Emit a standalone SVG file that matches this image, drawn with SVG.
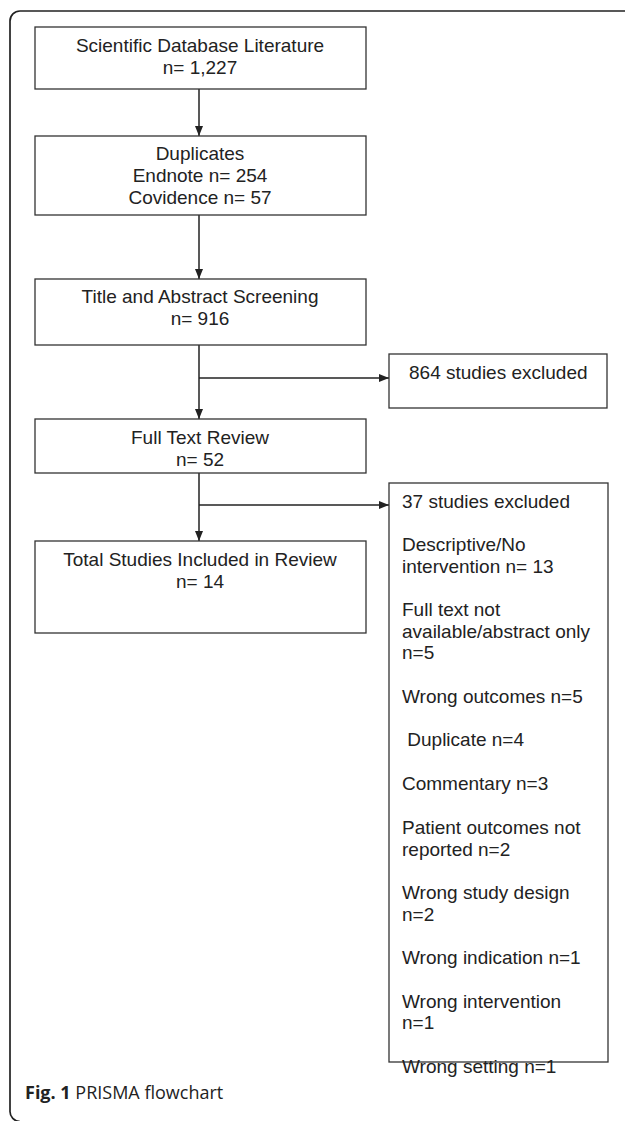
<svg xmlns="http://www.w3.org/2000/svg" width="625" height="1121" viewBox="0 0 625 1121">
<style>
.box{fill:#fff;stroke:#333;stroke-width:1.3}
.t{font-family:"Liberation Sans",Arial,sans-serif;font-size:19px;fill:#222}
.c{text-anchor:middle}
.ln{stroke:#222;stroke-width:1.5;fill:none}
.cap{font-family:"Open Sans","Noto Sans",sans-serif;font-size:18px;fill:#222}
</style>
<defs>
<marker id="ah" viewBox="0 0 10 10" refX="10" refY="5" markerWidth="10" markerHeight="10" markerUnits="userSpaceOnUse" orient="auto">
<path d="M0,1 L10,5 L0,9 Z" fill="#222"/>
</marker>
</defs>
<rect width="625" height="1121" fill="#fff"/>
<path d="M625,11 H20 A10,10 0 0 0 10,21 V1111 A10,10 0 0 0 20,1121.5" fill="none" stroke="#222" stroke-width="1.7"/>
<g id="connectors">
<line class="ln" x1="199" y1="89" x2="199" y2="136" marker-end="url(#ah)"/>
<line class="ln" x1="199" y1="215" x2="199" y2="279" marker-end="url(#ah)"/>
<line class="ln" x1="199" y1="345" x2="199" y2="419" marker-end="url(#ah)"/>
<line class="ln" x1="199" y1="378" x2="389" y2="378" marker-end="url(#ah)"/>
<line class="ln" x1="199" y1="473" x2="199" y2="541" marker-end="url(#ah)"/>
<line class="ln" x1="199" y1="505" x2="389" y2="505" marker-end="url(#ah)"/>
</g>
<g id="n1">
<rect class="box" x="35" y="27" width="331" height="62"/>
<text class="t c" x="200" y="52">Scientific Database Literature</text>
<text class="t c" x="200" y="74">n= 1,227</text>
</g>
<g id="n2">
<rect class="box" x="35" y="136" width="331" height="79"/>
<text class="t c" x="200" y="160">Duplicates</text>
<text class="t c" x="200" y="182">Endnote n= 254</text>
<text class="t c" x="200" y="204">Covidence n= 57</text>
</g>
<g id="n3">
<rect class="box" x="35" y="279" width="331" height="66"/>
<text class="t c" x="200" y="303">Title and Abstract Screening</text>
<text class="t c" x="200" y="325">n= 916</text>
</g>
<g id="n4">
<rect class="box" x="389" y="354" width="218" height="54"/>
<text class="t" x="409" y="379">864 studies excluded</text>
</g>
<g id="n5">
<rect class="box" x="35" y="419" width="331" height="54"/>
<text class="t c" x="200" y="444">Full Text Review</text>
<text class="t c" x="200" y="466">n= 52</text>
</g>
<g id="n6">
<rect class="box" x="35" y="541" width="331" height="92"/>
<text class="t c" x="200" y="566">Total Studies Included in Review</text>
<text class="t c" x="200" y="588">n= 14</text>
</g>
<g id="n7">
<rect class="box" x="389" y="483" width="219" height="579"/>
<text class="t" x="402" y="508">37 studies excluded</text>
<text class="t" x="402" y="551">Descriptive/No</text>
<text class="t" x="402" y="573">intervention n= 13</text>
<text class="t" x="402" y="616">Full text not</text>
<text class="t" x="402" y="638">available/abstract only</text>
<text class="t" x="402" y="659">n=5</text>
<text class="t" x="402" y="703">Wrong outcomes n=5</text>
<text class="t" x="402" y="746" xml:space="preserve"> Duplicate n=4</text>
<text class="t" x="402" y="790">Commentary n=3</text>
<text class="t" x="402" y="834">Patient outcomes not</text>
<text class="t" x="402" y="856">reported n=2</text>
<text class="t" x="402" y="899">Wrong study design</text>
<text class="t" x="402" y="921">n=2</text>
<text class="t" x="402" y="964">Wrong indication n=1</text>
<text class="t" x="402" y="1008">Wrong intervention</text>
<text class="t" x="402" y="1029">n=1</text>
<text class="t" x="402" y="1073">Wrong setting n=1</text>
</g>
<text class="cap" x="25" y="1099"><tspan font-weight="bold">Fig. 1</tspan> PRISMA flowchart</text>
</svg>
